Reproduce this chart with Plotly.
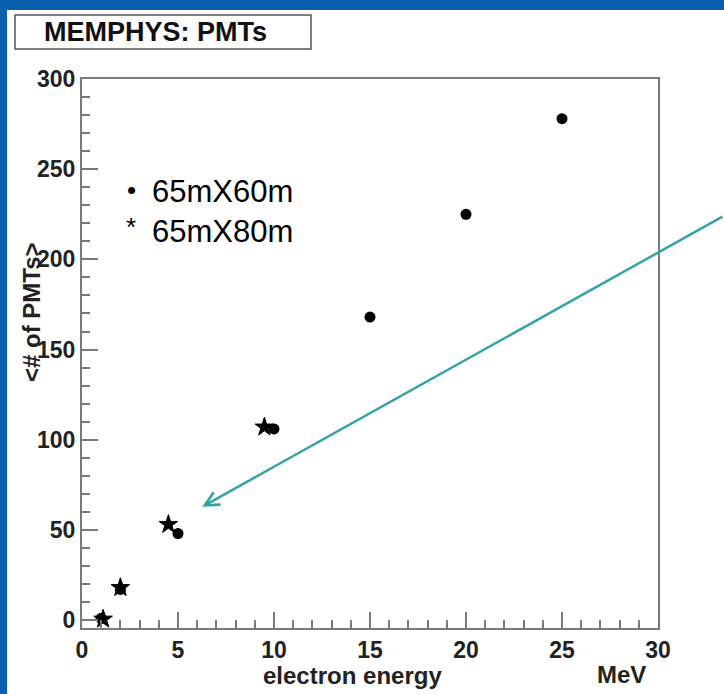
import plotly.graph_objects as go

# --- data ---
energy_60 = [1, 2, 5, 10, 15, 20, 25]
pmts_60 = [1, 17, 48, 106, 168, 225, 278]
energy_80 = [1.1, 2.0, 4.5, 9.5]
pmts_80 = [0.5, 18, 53, 107]

name_60 = "65mX60m"
name_80 = "65mX80m"
title_text = "MEMPHYS: PMTs"
x_title = "electron energy"
x_unit = "MeV"
y_title = "<# of PMTs>"
x_ticks = [0, 5, 10, 15, 20, 25, 30]
y_ticks = [0, 50, 100, 150, 200, 250, 300]

W, H = 724, 694
ML, MR, MT, MB = 82, 66, 79, 66
PW, PH = W - ML - MR, H - MT - MB


def px(x):  # pixel -> paper x
    return (x - ML) / PW


def py(y):  # pixel -> paper y
    return (H - MB - y) / PH


FONT = "Liberation Sans, Arial, Helvetica, sans-serif"
AXC = "#7a7a7a"
TEAL = "#35a3a8"
BLUE = "#0b60ad"

fig = go.Figure()
fig.add_trace(go.Scatter(x=energy_60, y=pmts_60, mode="markers", name=name_60,
                         marker=dict(symbol="circle", size=11, color="black"),
                         showlegend=False, cliponaxis=False))
fig.add_trace(go.Scatter(x=energy_80, y=pmts_80, mode="markers", name=name_80,
                         marker=dict(symbol="star", size=14, color="black",
                                     line=dict(width=1, color="black")),
                         showlegend=False, cliponaxis=False))

axis_common = dict(
    showline=True, linecolor=AXC, linewidth=2, mirror=True,
    ticks="inside", ticklen=16, tickwidth=2, tickcolor=AXC,
    showgrid=False, zeroline=False,
    tickfont=dict(family=FONT, size=23, color="#222222", weight="bold"),
    minor=dict(ticks="inside", ticklen=8, tickwidth=2, tickcolor=AXC, showgrid=False),
)

fig.update_xaxes(range=[0, 30], tickvals=x_ticks, minor_dtick=1, **axis_common)
fig.update_yaxes(range=[-4.4, 300], tickvals=y_ticks, minor_dtick=10, **axis_common)

shapes = [
    # blue screen frame
    dict(type="rect", xref="paper", yref="paper", x0=-0.3, x1=1.3, y0=py(10), y1=1.3,
         fillcolor=BLUE, line=dict(width=0), layer="below"),
    dict(type="rect", xref="paper", yref="paper", x0=-0.3, x1=px(7), y0=-0.3, y1=1.3,
         fillcolor=BLUE, line=dict(width=0), layer="below"),
    # title box
    dict(type="rect", xref="paper", yref="paper", x0=px(15), x1=px(311), y0=py(49), y1=py(15),
         fillcolor="white", line=dict(width=1.5, color="#555555")),
]

annotations = [
    dict(text=title_text, xref="paper", yref="paper", x=px(155), y=py(32),
         xanchor="center", yanchor="middle", showarrow=False,
         font=dict(family=FONT, size=27, color="#111111", weight="bold")),
    dict(text=x_title, xref="paper", yref="paper", x=px(352), y=py(675),
         xanchor="center", yanchor="middle", showarrow=False,
         font=dict(family=FONT, size=24, color="#222222", weight="bold")),
    dict(text=x_unit, xref="paper", yref="paper", x=px(648), y=py(674),
         xanchor="right", yanchor="middle", showarrow=False,
         font=dict(family=FONT, size=24, color="#222222", weight="bold")),
    dict(text=y_title, xref="paper", yref="paper", x=px(31), y=py(312),
         xanchor="center", yanchor="middle", showarrow=False, textangle=-90,
         font=dict(family=FONT, size=24, color="#222222", weight="bold")),
    # legend text
    dict(text="\u2022", xref="paper", yref="paper", x=px(131), y=py(190),
         xanchor="center", yanchor="middle", showarrow=False,
         font=dict(family=FONT, size=26, color="black")),
    dict(text=name_60, xref="paper", yref="paper", x=px(150), y=py(191),
         xanchor="left", yanchor="middle", showarrow=False,
         font=dict(family=FONT, size=31, color="black")),
    dict(text="*", xref="paper", yref="paper", x=px(131), y=py(227),
         xanchor="center", yanchor="middle", showarrow=False,
         font=dict(family=FONT, size=26, color="black")),
    dict(text=name_80, xref="paper", yref="paper", x=px(150), y=py(231),
         xanchor="left", yanchor="middle", showarrow=False,
         font=dict(family=FONT, size=31, color="black")),
    # teal arrow
    dict(text="", x=6.26, y=62.8, xref="x", yref="y", ax=522, ay=-291,
         showarrow=True, arrowhead=5, arrowsize=1.1, arrowwidth=2.5,
         arrowcolor=TEAL, standoff=0),
]

fig.update_layout(
    width=W, height=H,
    margin=dict(l=ML, r=MR, t=MT, b=MB, pad=0),
    paper_bgcolor="white", plot_bgcolor="white",
    shapes=shapes, annotations=annotations,
    showlegend=False,
)

fig.write_html("out.html", config={"displayModeBar": False},
               post_script="document.body.style.margin='0';document.body.style.overflow='hidden';")
